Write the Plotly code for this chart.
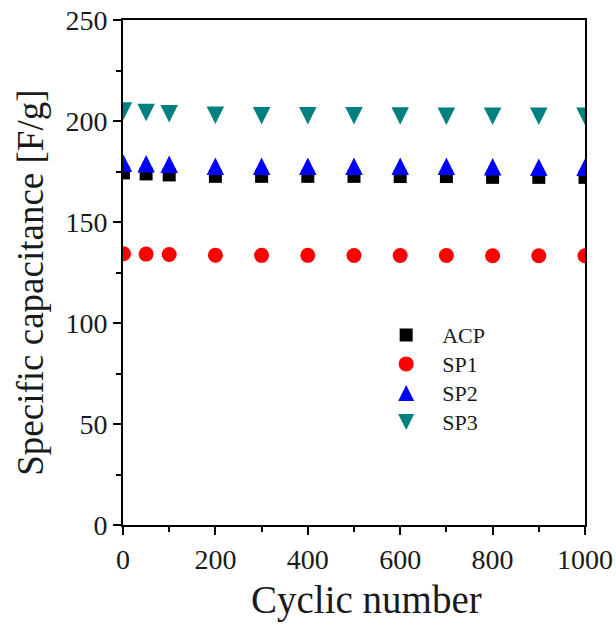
import plotly.graph_objects as go

cycles = [1, 50, 100, 200, 300, 400, 500, 600, 700, 800, 900, 1000]
acp = [174.3, 173.8, 173.3, 172.6, 172.6, 172.6, 172.6, 172.5, 172.5, 172.1, 172.1, 172.1]
sp1 = [134.3, 134.1, 133.9, 133.6, 133.5, 133.5, 133.4, 133.4, 133.4, 133.3, 133.3, 133.3]
sp2 = [179.1, 178.8, 178.6, 177.6, 177.6, 177.6, 177.6, 177.6, 177.6, 177.4, 177.1, 177.1]
sp3 = [204.9, 204.2, 203.6, 202.8, 202.6, 202.6, 202.6, 202.5, 202.3, 202.3, 202.3, 202.4]

names = ["ACP", "SP1", "SP2", "SP3"]
values = [acp, sp1, sp2, sp3]
colors = ["#000000", "#ff0000", "#0000ff", "#008080"]

x_title = "Cyclic number"
y_title = "Specific capacitance [F/g]"

FONT = "Liberation Serif, Times New Roman, serif"
TXT = "#1a1a1a"
TRI = 17.5   # triangle size in the plot
LTRI = 16    # triangle size in the legend (plotly caps legend markers at 16)

# Marker styles inside the plot (arrow symbols give near-equilateral triangles;
# standoff re-centres them on the data point)
plot_markers = [
    dict(symbol="square", size=13),
    dict(symbol="circle", size=15),
    dict(symbol="arrow-down", size=TRI, angle=180, standoff=TRI / 2),
    dict(symbol="arrow-down", size=TRI, angle=0, standoff=TRI / 2),
]
# Same shapes for the legend (plotly negates standoff inside legends)
legend_markers = [
    dict(symbol="square", size=13),
    dict(symbol="circle", size=15),
    dict(symbol="arrow-up", size=LTRI, angle=0, standoff=LTRI / 2),
    dict(symbol="arrow-up", size=LTRI, angle=180, standoff=LTRI / 2),
]

fig = go.Figure()
for name, vals, col, mk in zip(names, values, colors, plot_markers):
    fig.add_trace(go.Scatter(
        x=cycles, y=vals, mode="markers", name=name,
        showlegend=False,
        hoverinfo="x+y+name",
        marker=dict(color=col, line=dict(width=0), **mk),
        cliponaxis=True,
    ))
for name, col, mk in zip(names, colors, legend_markers):
    fig.add_trace(go.Scatter(
        x=[None], y=[None], mode="markers",
        name="<span style='font-size:22px'>%s</span>" % name,
        showlegend=True, hoverinfo="skip",
        marker=dict(color=col, line=dict(width=0), **mk),
    ))

axis_common = dict(
    showline=True, linecolor="black", linewidth=2, mirror=True,
    ticks="outside", ticklen=8, tickwidth=1.5, tickcolor="black",
    showgrid=False, zeroline=False, automargin=False,
    tickfont=dict(family=FONT, size=28, color=TXT),
)

fig.update_xaxes(
    range=[0, 1000], tick0=0, dtick=200,
    minor=dict(ticks="outside", ticklen=5, tickwidth=1.5, tickcolor="black", dtick=100),
    **axis_common,
)
fig.update_yaxes(
    range=[0, 250], tick0=0, dtick=50,
    minor=dict(ticks="outside", ticklen=5, tickwidth=1.5, tickcolor="black", dtick=25),
    **axis_common,
)

fig.add_annotation(
    text=x_title, xref="paper", yref="paper", x=0.528, y=-0.149,
    xanchor="center", yanchor="middle", showarrow=False,
    font=dict(family=FONT, size=39, color=TXT),
)
fig.add_annotation(
    text=y_title, xref="paper", yref="paper", x=-0.20, y=0.479,
    xanchor="center", yanchor="middle", showarrow=False, textangle=-90,
    font=dict(family=FONT, size=37, color=TXT),
)

fig.update_layout(
    width=616, height=625,
    margin=dict(l=123, r=31, t=20, b=100),
    paper_bgcolor="white", plot_bgcolor="white",
    legend=dict(
        x=0.535, y=0.415, xanchor="left", yanchor="top",
        bgcolor="rgba(0,0,0,0)",
        font=dict(family=FONT, size=20, color=TXT),
        itemsizing="trace", itemwidth=62, tracegroupgap=0,
    ),
)

fig.write_html(
    "out.html",
    config={"displayModeBar": False},
    post_script="document.body.style.margin='0';document.body.style.padding='0';document.documentElement.style.margin='0';",
)
